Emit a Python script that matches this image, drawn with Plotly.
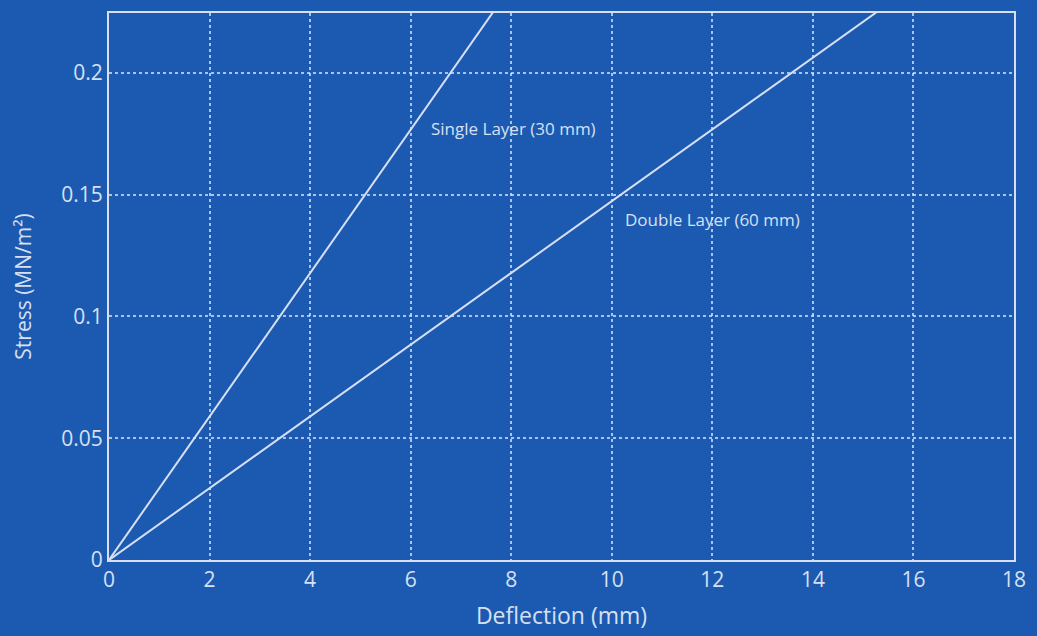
import plotly.graph_objects as go

# Data
single_x = [0, 7.64]
single_y = [0, 0.225]
double_x = [0, 15.27]
double_y = [0, 0.225]
x_ticks = [0, 2, 4, 6, 8, 10, 12, 14, 16, 18]
y_ticks = [0, 0.05, 0.1, 0.15, 0.2]
y_tick_labels = ["0", "0.05", "0.1", "0.15", "0.2"]
labels = ["Single Layer (30 mm)", "Double Layer (60 mm)"]
label_pos = [(6.36, 0.177), (10.22, 0.140)]

BG = "#1c5ab1"
FG = "#d6e0f2"
FONT = "Open Sans, Lato, sans-serif"

fig = go.Figure()
fig.add_trace(go.Scatter(x=single_x, y=single_y, mode="lines",
                         line=dict(color=FG, width=2), showlegend=False))
fig.add_trace(go.Scatter(x=double_x, y=double_y, mode="lines",
                         line=dict(color=FG, width=2), showlegend=False))

for text, (lx, ly) in zip(labels, label_pos):
    fig.add_annotation(x=lx, y=ly, text=text, showarrow=False, xanchor="left",
                       yanchor="middle", font=dict(color=FG, size=17, family=FONT))

fig.update_layout(
    width=1037, height=636,
    paper_bgcolor=BG, plot_bgcolor=BG,
    margin=dict(l=109, r=11, t=11, b=76),
    font=dict(family=FONT, color=FG, size=20),
    xaxis=dict(range=[0, 18], tickvals=x_ticks, showgrid=True,
               gridcolor="rgba(220,230,250,0.75)", griddash="dot", gridwidth=1.5,
               showline=True, linecolor=FG, linewidth=2, mirror=True,
               zeroline=False, ticks="", tickfont=dict(size=21, color=FG),
               title=dict(text="Deflection (mm)", font=dict(size=23, color=FG), standoff=16)),
    yaxis=dict(range=[0, 0.2246], tickvals=y_ticks, ticktext=y_tick_labels, showgrid=True,
               gridcolor="rgba(220,230,250,0.75)", griddash="dot", gridwidth=1.5,
               showline=True, linecolor=FG, linewidth=2, mirror=True,
               zeroline=False, ticks="", tickfont=dict(size=21, color=FG),
               title=dict(text="Stress (MN/m²)", font=dict(size=21, color=FG), standoff=24)),
)

fig.write_html("out.html", config={"displayModeBar": False},
               post_script="document.body.style.margin='0';document.body.style.background='#1c5ab1';")
